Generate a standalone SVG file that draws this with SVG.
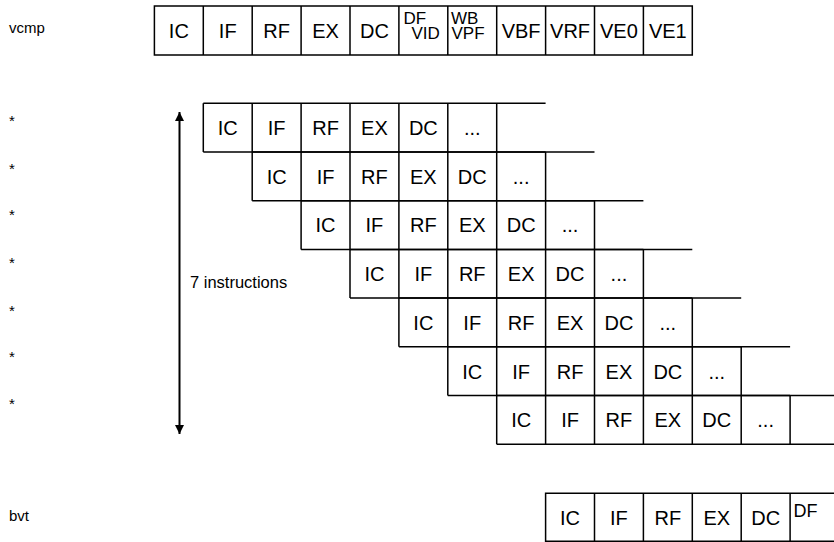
<svg xmlns="http://www.w3.org/2000/svg" xmlns:xlink="http://www.w3.org/1999/xlink" width="834" height="542" viewBox="0 0 834 542">
  <style>
    .grid { fill: none; stroke: #000; stroke-width: 1.5; }
    .cell { font-family: "Liberation Sans", Arial, sans-serif; font-size: 20px; fill: #000; text-anchor: middle; }
    .pair { font-family: "Liberation Sans", Arial, sans-serif; font-size: 17px; fill: #000; }
    .label { font-family: "Liberation Sans", Arial, sans-serif; font-size: 15px; fill: #000; }
    .note { font-family: "Liberation Sans", Arial, sans-serif; font-size: 16.5px; fill: #000; }
    .span { stroke: #000; stroke-width: 2; fill: none; }
  </style>
  <defs>
    <marker id="head" viewBox="0 0 10 10" refX="10" refY="5" markerWidth="4.5" markerHeight="4.5" markerUnits="strokeWidth" orient="auto-start-reverse">
      <path d="M0,0L10,5L0,10z" fill="#000"/>
    </marker>
    <!-- one staggered pipeline row: six stages plus an open trailing slot -->
    <g id="stage">
      <path class="grid" d="M0,0H342.3M0,48.7H342.3M0,0V48.7M48.9,0V48.7M97.8,0V48.7M146.7,0V48.7M195.6,0V48.7M244.5,0V48.7M293.4,0V48.7"/>
      <text class="cell" x="24.45" y="31.8">IC</text>
      <text class="cell" x="73.35" y="31.8">IF</text>
      <text class="cell" x="122.25" y="31.8">RF</text>
      <text class="cell" x="171.15" y="31.8">EX</text>
      <text class="cell" x="220.05" y="31.8">DC</text>
      <text class="cell" x="268.95" y="31.8">...</text>
    </g>
  </defs>

  <rect width="834" height="542" fill="#fff"/>

  <!-- side labels -->
  <g id="labels">
    <text class="label" x="9" y="33">vcmp</text>
    <text class="label" x="9" y="126">*</text>
    <text class="label" x="9" y="174">*</text>
    <text class="label" x="9" y="220">*</text>
    <text class="label" x="9" y="268">*</text>
    <text class="label" x="9" y="316">*</text>
    <text class="label" x="9" y="362">*</text>
    <text class="label" x="9" y="409">*</text>
    <text class="label" x="9" y="521">bvt</text>
  </g>

  <!-- vcmp pipeline -->
  <g id="vcmp">
    <path class="grid" d="M154.4,6H692.3V55H154.4z M203.3,6V55M252.2,6V55M301.1,6V55M350,6V55M398.9,6V55M447.8,6V55M496.7,6V55M545.6,6V55M594.5,6V55M643.4,6V55"/>
    <text class="cell" x="178.85" y="38">IC</text>
    <text class="cell" x="227.75" y="38">IF</text>
    <text class="cell" x="276.65" y="38">RF</text>
    <text class="cell" x="325.55" y="38">EX</text>
    <text class="cell" x="374.45" y="38">DC</text>
    <text class="pair" x="403.5" y="24">DF</text>
    <text class="pair" x="411.5" y="39">VID</text>
    <text class="pair" x="451" y="24">WB</text>
    <text class="pair" x="451.5" y="39">VPF</text>
    <text class="cell" x="521.15" y="38">VBF</text>
    <text class="cell" x="570.05" y="38">VRF</text>
    <text class="cell" x="618.95" y="38">VE0</text>
    <text class="cell" x="667.85" y="38">VE1</text>
  </g>

  <!-- seven staggered instructions -->
  <g id="instr1" transform="translate(203.3,103.3)"><use xlink:href="#stage"/></g>
  <g id="instr2" transform="translate(252.2,152)"><use xlink:href="#stage"/></g>
  <g id="instr3" transform="translate(301.1,200.7)"><use xlink:href="#stage"/></g>
  <g id="instr4" transform="translate(350,249.4)"><use xlink:href="#stage"/></g>
  <g id="instr5" transform="translate(398.9,298.1)"><use xlink:href="#stage"/></g>
  <g id="instr6" transform="translate(447.8,346.8)"><use xlink:href="#stage"/></g>
  <g id="instr7" transform="translate(496.7,395.5)"><use xlink:href="#stage"/></g>

  <!-- bvt pipeline -->
  <g id="bvt">
    <path class="grid" d="M840,493.3H545.6V541.3H840 M594.5,493.3V541.3M643.4,493.3V541.3M692.3,493.3V541.3M741.2,493.3V541.3M790.1,493.3V541.3"/>
    <text class="cell" x="570.05" y="524.5">IC</text>
    <text class="cell" x="618.95" y="524.5">IF</text>
    <text class="cell" x="667.85" y="524.5">RF</text>
    <text class="cell" x="716.75" y="524.5">EX</text>
    <text class="cell" x="765.65" y="524.5">DC</text>
    <text class="pair" x="793.5" y="517" style="font-size:18px">DF</text>
  </g>

  <!-- span of the instruction window -->
  <g id="connectors">
    <line class="span" x1="179.5" y1="112" x2="179.5" y2="434" marker-start="url(#head)" marker-end="url(#head)"/>
    <text class="note" x="190" y="288">7 instructions</text>
  </g>
</svg>
